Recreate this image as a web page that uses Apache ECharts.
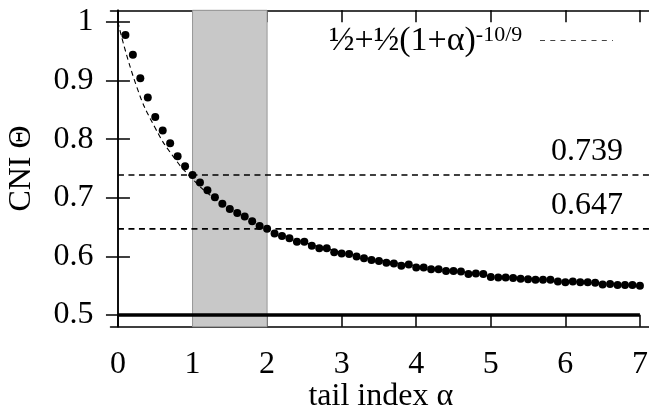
<!DOCTYPE html>
<html>
<head>
<meta charset="utf-8">
<script src="https://cdn.jsdelivr.net/npm/echarts@6/dist/echarts.min.js"></script>
<style>
html,body{margin:0;padding:0;background:#fff;}
#chart{width:649px;height:406px;}
</style>
</head>
<body>
<div id="chart"></div>
<script>
// ---- data ----
const alphaValues = [0.1,0.2,0.3,0.4,0.5,0.6,0.7,0.8,0.9,1.0,
  1.1,1.2,1.3,1.4,1.5,1.6,1.7,1.8,1.9,2.0,
  2.1,2.2,2.3,2.4,2.5,2.6,2.7,2.8,2.9,3.0,
  3.1,3.2,3.3,3.4,3.5,3.6,3.7,3.8,3.9,4.0,
  4.1,4.2,4.3,4.4,4.5,4.6,4.7,4.8,4.9,5.0,
  5.1,5.2,5.3,5.4,5.5,5.6,5.7,5.8,5.9,6.0,
  6.1,6.2,6.3,6.4,6.5,6.6,6.7,6.8,6.9,7.0];
const cniValues = [0.978,0.944,0.904,0.871,0.838,0.815,0.793,0.771,0.754,0.739,
  0.726,0.713,0.701,0.690,0.681,0.674,0.668,0.660,0.652,0.647,
  0.639,0.635,0.631,0.625,0.625,0.618,0.614,0.614,0.607,0.605,
  0.604,0.600,0.597,0.594,0.592,0.589,0.588,0.584,0.586,0.581,
  0.581,0.578,0.578,0.575,0.575,0.574,0.570,0.571,0.570,0.565,
  0.564,0.564,0.563,0.562,0.561,0.560,0.560,0.560,0.557,0.556,
  0.557,0.556,0.556,0.555,0.552,0.553,0.551,0.551,0.551,0.550];
const curveAlpha = [0,0.25,0.5,0.75,1.0,1.25,1.5,1.75,2.0,2.5,3.0,3.5,4.0,5.0,6.0,7.0];
const curveValues = [1.000,0.890,0.819,0.769,0.732,0.703,0.681,0.663,0.648,0.624,0.607,0.594,0.584,0.568,0.558,0.550];
const refLevels = [0.739, 0.647];
const refLabels = ['0.739', '0.647'];
const baseLevel = 0.5;
const bandRange = [1, 2];
const xTicks = [0,1,2,3,4,5,6,7];
const yTicks = [0.5,0.6,0.7,0.8,0.9,1.0];
const xLabel = 'tail index α';
const yLabel = 'CNI Θ';
const legendMain = '½+½(1+α)';
const legendSup = '-10/9';

// ---- layout ----
const X_MIN = -0.1, X_MAX = 7.15, Y_MIN = 0.48, Y_MAX = 1.02;
const FONT = 'Liberation Serif';
const FS = 32;

const chart = echarts.init(document.getElementById('chart'), null, {renderer:'canvas'});

const axisLineStyle = {show:true, lineStyle:{color:'#000', width:1.5}};
const tickStyle = (vals) => ({show:true, inside:true, length:12, customValues:vals, lineStyle:{color:'#000', width:1.5}});

const option = {
  animation:false,
  backgroundColor:'#fff',
  grid:{left:110.5, top:10.3, width:540.6, height:316.4, containLabel:false, outerBoundsMode:'none'},
  xAxis:[
    {type:'value', position:'bottom', min:X_MIN, max:X_MAX,
     axisLine:axisLineStyle, axisTick:tickStyle(xTicks), splitLine:{show:false},
     axisLabel:{customValues:xTicks, margin:22, color:'#000', fontFamily:FONT, fontSize:FS},
     name:xLabel, nameLocation:'middle', nameGap:54, nameMoveOverlap:false,
     nameTextStyle:{color:'#000', fontFamily:FONT, fontSize:FS}},
    {type:'value', position:'top', min:X_MIN, max:X_MAX,
     axisLine:axisLineStyle, axisTick:tickStyle(xTicks), splitLine:{show:false},
     axisLabel:{show:false}}
  ],
  yAxis:[
    {type:'value', position:'left', min:Y_MIN, max:Y_MAX,
     axisLine:axisLineStyle, axisTick:tickStyle(yTicks), splitLine:{show:false},
     axisLabel:{customValues:yTicks, margin:17, color:'#000', fontFamily:FONT, fontSize:FS},
     name:yLabel, nameLocation:'middle', nameGap:73, nameRotate:90, nameMoveOverlap:false,
     nameTextStyle:{color:'#000', fontFamily:FONT, fontSize:FS}},
    {type:'value', position:'right', min:Y_MIN, max:Y_MAX,
     axisLine:axisLineStyle, axisTick:tickStyle(yTicks), splitLine:{show:false},
     axisLabel:{show:false}}
  ],
  series:[
    {type:'line', name:'band', data:[], z:1, silent:true,
     markArea:{silent:true, itemStyle:{color:'#c8c8c8', borderColor:'#999', borderWidth:1},
       data:[[{xAxis:bandRange[0]},{xAxis:bandRange[1]}]]}},
    ...refLevels.map((lv) => ({
      type:'line', data:[[0, lv],[X_MAX, lv]], symbol:'none', z:2, silent:true,
      lineStyle:{color:'#000', width:1.6, type:[6,4.5]}
    })),
    {type:'line', name:'curve', data:curveAlpha.map((a,i)=>[a, curveValues[i]]),
     smooth:true, symbol:'none', z:3, silent:true,
     lineStyle:{color:'#000', width:1.1, type:[5,3.5]}},
    {type:'scatter', name:'CNI', data:alphaValues.map((a,i)=>[a, cniValues[i]]),
     symbol:'circle', symbolSize:8, z:4, itemStyle:{color:'#000', opacity:1}},
    {type:'line', name:'base', data:[[0, baseLevel],[7, baseLevel]], symbol:'none', z:5, silent:true,
     lineStyle:{color:'#000', width:3.5}}
  ]
};
chart.setOption(option);

// text overlays positioned through the axes
const gfx = [];
refLevels.forEach((lv, i) => {
  const p = chart.convertToPixel({xAxisIndex:0, yAxisIndex:0}, [6.8, lv]);
  gfx.push({type:'text', x:623, y:p[1]-23, style:{text:refLabels[i], font:FS+'px "'+FONT+'"', fill:'#000', align:'right', verticalAlign:'middle'}});
});
gfx.push({type:'text', x:329, y:41, style:{
  text:legendMain + '{sup|' + legendSup + '}', font:'34px "'+FONT+'"', fill:'#000',
  align:'left', verticalAlign:'middle',
  rich:{sup:{fontSize:22, fontFamily:FONT, fill:'#000', verticalAlign:'top', lineHeight:20}}
}});
gfx.push({type:'line', shape:{x1:540, y1:40.5, x2:613, y2:40.5}, style:{stroke:'#444', lineWidth:1, lineDash:[5,5.3]}});
chart.setOption({graphic:gfx});
</script>
</body>
</html>
